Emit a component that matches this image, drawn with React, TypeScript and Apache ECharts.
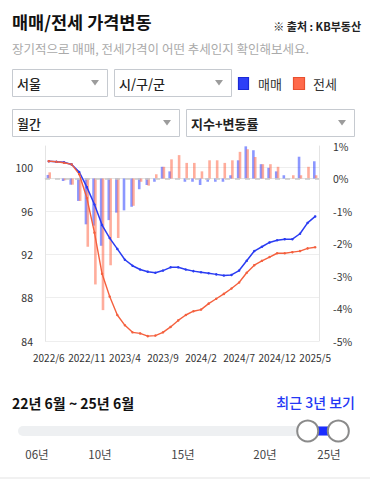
import React, { useEffect, useRef } from 'react';
import * as echarts from 'echarts';

const months = [
  '2022/6', '2022/7', '2022/8', '2022/9', '2022/10', '2022/11', '2022/12',
  '2023/1', '2023/2', '2023/3', '2023/4', '2023/5', '2023/6', '2023/7', '2023/8', '2023/9', '2023/10', '2023/11', '2023/12',
  '2024/1', '2024/2', '2024/3', '2024/4', '2024/5', '2024/6', '2024/7', '2024/8', '2024/9', '2024/10', '2024/11', '2024/12',
  '2025/1', '2025/2', '2025/3', '2025/4', '2025/5',
];

// 매매 지수 (left axis)
const saleIndex = [
  100.6, 100.55, 100.5, 100.3, 99.6, 98.2, 96.6, 94.7, 93.5, 92.5, 91.5, 90.95, 90.6,
  90.4, 90.3, 90.5, 90.8, 90.8, 90.6, 90.45, 90.35, 90.25, 90.15, 90.05, 90.1, 90.5,
  91.4, 92.3, 92.7, 93.1, 93.3, 93.4, 93.4, 93.9, 94.9, 95.5,
];
// 전세 지수 (left axis)
const jeonseIndex = [
  100.6, 100.55, 100.45, 100.3, 99.4, 97.2, 94.0, 90.2, 88.1, 86.4, 85.45, 84.8, 84.7,
  84.45, 84.5, 84.8, 85.3, 85.9, 86.4, 86.75, 86.9, 87.45, 87.9, 88.35, 88.85, 89.4,
  90.3, 91.0, 91.4, 91.75, 92.1, 92.1, 92.2, 92.3, 92.55, 92.65,
];
// 매매 변동률 % (right axis)
const saleRate = [
  0.11, 0, -0.08, -0.19, -0.69, -1.41, -1.45, -2.07, -1.28, -1.05, -0.98, -0.87, -0.33,
  -0.2, -0.1, 0.36, 0.22, 0, -0.1, -0.1, -0.2, -0.1, -0.1, -0.1, 0.1, 0.56,
  0.99, 0.87, 0.44, 0.33, 0.22, 0.1, 0, 0.67, 0, 0.53,
];
// 전세 변동률 % (right axis)
const jeonseRate = [
  0.19, 0, -0.05, -0.19, -0.69, -2.1, -3.26, -4.05, -2.67, -1.83, 0, -0.84, -0.1,
  -0.22, 0.13, 0.36, 0.59, 0.72, 0.48, 0.48, 0.22, 0.56, 0.56, 0.48, 0.56, 0.82,
  0.9, 0.66, 0.44, 0.44, 0.36, 0, 0.1, 0.1, 0.36, 0.1,
];

const sliderYears = ['06년', '10년', '15년', '20년', '25년'];
const sliderYearX = [37, 100, 183, 265, 329];

const FONT = '"Noto Sans CJK KR", "Noto Sans", sans-serif';

function dropdown(x: number, y: number, w: number, h: number, label: string, bold: boolean) {
  const ax = x + w - 12;
  const ay = y + h / 2;
  return [
    {
      type: 'rect',
      shape: { x: x + 0.5, y: y + 0.5, width: w, height: h },
      style: { fill: '#fff', stroke: '#c6cad0', lineWidth: 1 },
    },
    {
      type: 'text',
      x: x + 5,
      y: ay + 0.5,
      style: {
        text: label, fill: '#222', fontSize: 13, fontFamily: FONT,
        fontWeight: bold ? 600 : 500, align: 'left', verticalAlign: 'middle',
      },
    },
    {
      type: 'polygon',
      shape: { points: [[ax - 4, ay - 2.5], [ax + 4, ay - 2.5], [ax, ay + 3]] },
      style: { fill: '#9c9c9c' },
    },
  ];
}

export default function App() {
  const ref = useRef<HTMLDivElement>(null);

  useEffect(() => {
    document.body.style.margin = '0';
    const chart = echarts.init(ref.current!, null, { renderer: 'svg' });

    const graphic: any[] = [
      {
        type: 'text', x: 12, y: 21,
        style: { text: '매매/전세 가격변동', fill: '#111', fontSize: 17.5, fontWeight: 'bold', fontFamily: FONT, verticalAlign: 'middle' },
      },
      {
        type: 'text', x: 361, y: 26,
        style: { text: '※ 출처 : KB부동산', fill: '#222', fontSize: 11, fontWeight: 'bold', fontFamily: FONT, align: 'right', verticalAlign: 'middle' },
      },
      {
        type: 'text', x: 12, y: 48,
        style: { text: '장기적으로 매매, 전세가격이 어떤 추세인지 확인해보세요.', fill: '#aaaaaa', fontSize: 12.5, fontFamily: FONT, verticalAlign: 'middle' },
      },
      ...dropdown(12, 69, 95, 27, '서울', false),
      ...dropdown(114, 69, 117, 27, '시/구/군', false),
      ...dropdown(12, 109, 167, 27, '월간', false),
      ...dropdown(186, 109, 168, 27, '지수+변동률', true),
      {
        type: 'rect', shape: { x: 238.5, y: 77.5, width: 10, height: 12 },
        style: { fill: '#2e3ff7', stroke: '#1a29d6', lineWidth: 1.2 },
      },
      {
        type: 'text', x: 258, y: 83.5,
        style: { text: '매매', fill: '#333', fontSize: 13, fontFamily: FONT, verticalAlign: 'middle' },
      },
      {
        type: 'rect', shape: { x: 293.5, y: 77.5, width: 11, height: 12 },
        style: { fill: '#ff6a4b', stroke: '#e8502f', lineWidth: 1.2 },
      },
      {
        type: 'text', x: 313, y: 83.5,
        style: { text: '전세', fill: '#333', fontSize: 13, fontFamily: FONT, verticalAlign: 'middle' },
      },
      {
        type: 'text', x: 12, y: 403,
        style: { text: '22년 6월 ~ 25년 6월', fill: '#111', fontSize: 14, fontWeight: 'bold', fontFamily: FONT, verticalAlign: 'middle' },
      },
      {
        type: 'text', x: 355, y: 402,
        style: { text: '최근 3년 보기', fill: '#2438f5', fontSize: 14, fontWeight: 500, fontFamily: FONT, align: 'right', verticalAlign: 'middle' },
      },
      {
        type: 'rect', shape: { x: 18, y: 426, width: 332, height: 10, r: 5 },
        style: { fill: '#eef0f2' },
      },
      {
        type: 'rect', shape: { x: 308, y: 426.5, width: 30, height: 9 },
        style: { fill: '#1a2dff' },
      },
      {
        type: 'circle', shape: { cx: 307.7, cy: 431, r: 10.5 },
        style: { fill: '#fff', stroke: '#8a8a8a', lineWidth: 2 },
      },
      {
        type: 'circle', shape: { cx: 338.3, cy: 431, r: 10.5 },
        style: { fill: '#fff', stroke: '#8a8a8a', lineWidth: 2 },
      },
      ...sliderYears.map((t, i) => ({
        type: 'text', x: sliderYearX[i], y: 454,
        style: { text: t, fill: '#444', fontSize: 11.5, fontFamily: FONT, align: 'center', verticalAlign: 'middle' },
      })),
      {
        type: 'rect', shape: { x: 0, y: 477, width: 370, height: 2 },
        style: { fill: '#f1f1f1' },
      },
    ];

    chart.setOption({
      animation: false,
      backgroundColor: '#fff',
      textStyle: { fontFamily: FONT },
      grid: { left: 45, right: 51, top: 146, bottom: 138 },
      graphic,
      xAxis: {
        type: 'category',
        data: months,
        boundaryGap: true,
        axisLine: { show: true, lineStyle: { color: '#e4e4e4' } },
        axisTick: { show: false },
        axisLabel: { interval: 4, fontSize: 10, color: '#333', margin: 11, fontFamily: FONT },
        splitLine: { show: false },
      },
      yAxis: [
        {
          type: 'value',
          position: 'left',
          min: 84,
          max: 102,
          interval: 4,
          axisLine: { show: true, lineStyle: { color: '#e4e4e4' } },
          axisTick: { show: false },
          axisLabel: {
            fontSize: 10.5, color: '#333', margin: 12, fontFamily: FONT,
            formatter: (v: number) => (v === 102 ? '' : String(v)),
          },
          splitLine: {
            show: true,
            lineStyle: { color: ['#eeeeee', '#eeeeee', '#eeeeee', '#eeeeee', '#eeeeee', 'rgba(0,0,0,0)'] },
          },
        },
        {
          type: 'value',
          position: 'right',
          min: -5,
          max: 1,
          interval: 1,
          axisLine: { show: true, lineStyle: { color: '#e4e4e4' } },
          axisTick: { show: false },
          axisLabel: { fontSize: 10.5, color: '#333', margin: 14, formatter: '{value}%', fontFamily: FONT },
          splitLine: { show: false },
        },
      ],
      series: [
        {
          name: '매매 변동률',
          type: 'bar',
          yAxisIndex: 1,
          data: saleRate,
          barWidth: 2.6,
          barGap: '-30%',
          itemStyle: { color: 'rgba(45,65,255,0.55)' },
          markLine: {
            silent: true,
            symbol: 'none',
            label: { show: false },
            lineStyle: { color: '#c9c9c9', type: [5, 5], width: 1.5 },
            data: [{ yAxis: 0 }],
          },
          z: 1,
        },
        {
          name: '전세 변동률',
          type: 'bar',
          yAxisIndex: 1,
          data: jeonseRate,
          barWidth: 2.6,
          barGap: '-30%',
          itemStyle: { color: 'rgba(255,105,75,0.55)' },
          z: 1,
        },
        {
          name: '매매',
          type: 'line',
          yAxisIndex: 0,
          data: saleIndex,
          symbol: 'circle',
          symbolSize: 2.5,
          showSymbol: true,
          lineStyle: { color: '#2a3cf2', width: 1.5 },
          itemStyle: { color: '#2a3cf2' },
          z: 3,
        },
        {
          name: '전세',
          type: 'line',
          yAxisIndex: 0,
          data: jeonseIndex,
          symbol: 'circle',
          symbolSize: 2.5,
          showSymbol: true,
          lineStyle: { color: '#f4603e', width: 1.4 },
          itemStyle: { color: '#f4603e' },
          z: 3,
        },
      ],
    });

    return () => chart.dispose();
  }, []);

  return <div ref={ref} style={{ position: 'absolute', left: 0, top: 0, width: 370, height: 479 }} />;
}
